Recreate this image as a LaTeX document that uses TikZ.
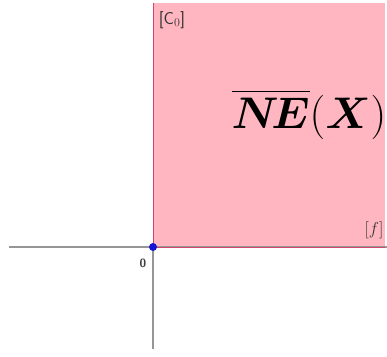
\documentclass[tikz,border=0pt]{standalone}
\usepackage{amsmath, amssymb}
\usepackage{bm}
\usepackage{tikz}

\definecolor{conepink}{RGB}{255,182,193}
\definecolor{coneedge}{RGB}{205,70,110}
\definecolor{axisgray}{RGB}{150,150,150}
\definecolor{dotblue}{RGB}{20,20,210}

\begin{document}
\begin{tikzpicture}[x=1pt, y=1pt]
    \useasboundingbox (0, 0) rectangle (387, 356);

    \coordinate (O) at (153, 109);
    \coordinate (L) at (9, 109);
    \coordinate (R) at (387, 109);
    \coordinate (D) at (153, 7);
    \coordinate (T) at (153, 353);

    % the cone
    \fill[conepink] (153, 109) rectangle (385, 353);

    % axes
    \draw[axisgray, line width=1.2pt] (L) -- (R);
    \draw[axisgray, line width=1.2pt] (D) -- (O);

    \draw[coneedge, line width=1pt] (T) -- (O) -- (385, 109);

    \node[circle, fill=dotblue, inner sep=0pt, minimum size=8pt] at (O) (P) {};

    \node[font=\sffamily\bfseries\large, text=black!75] at (143, 93) (zero) {0};
    \node[font=\sffamily\LARGE, text=black!80] at (172, 336) (c0) {[C$_0$]};
    \node[text=black!80, font=\LARGE] at (374, 126) (f) {$[f]$};
    \node at (309, 242) (NE)
        {\scalebox{1.78}{\Huge$\overline{\bm{N}\!\bm{E}}(\bm{X})$}};
\end{tikzpicture}
\end{document}
